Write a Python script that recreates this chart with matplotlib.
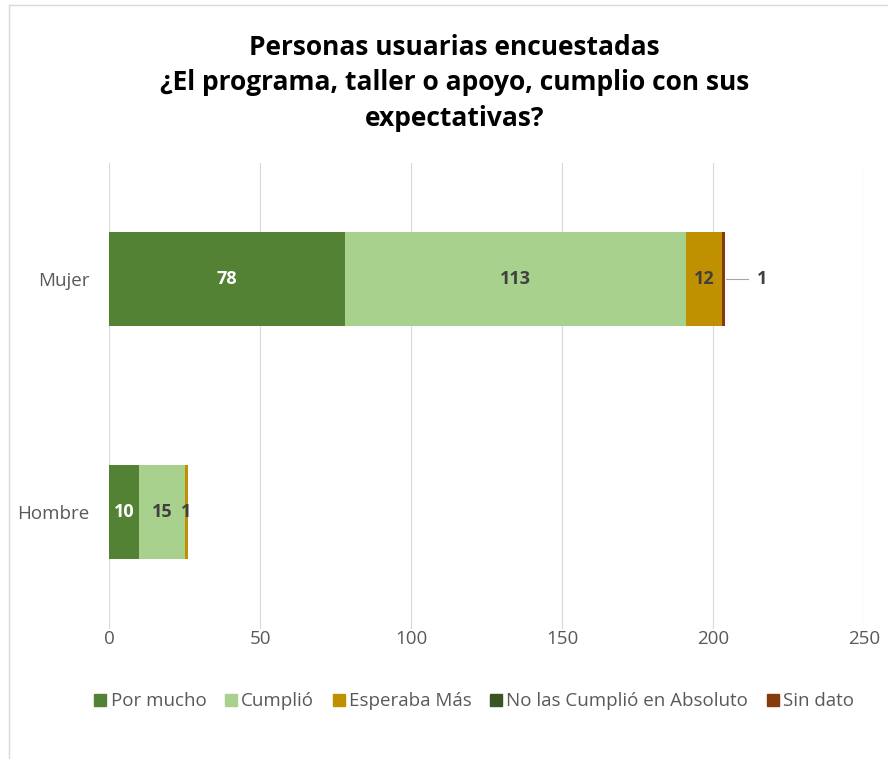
import numpy as np
import matplotlib.pyplot as plt
from matplotlib.lines import Line2D

# data
categories = ['Hombre', 'Mujer']
series_names = ['Por mucho', 'Cumplió', 'Esperaba Más', 'No las Cumplió en Absoluto', 'Sin dato']
por_mucho = [10, 78]
cumplio = [15, 113]
esperaba_mas = [1, 12]
no_cumplio = [0, 0]
sin_dato = [0, 1]
xticks = [0, 50, 100, 150, 200, 250]

colors = ['#548235', '#A9D18E', '#BF9000', '#375623', '#843C0C']
label_colors = ['white', '#404040', '#404040', 'white', '#404040']

fig = plt.figure(figsize=(8.88, 7.59), dpi=100)
ax = fig.add_axes([109 / 888, 1 - 628.5 / 759, (864 - 109) / 888, (628.5 - 162.5) / 759])

y = np.arange(len(categories))
left = np.zeros(len(categories))
values = [por_mucho, cumplio, esperaba_mas, no_cumplio, sin_dato]
for i, vals in enumerate(values):
    vals = np.array(vals, dtype=float)
    ax.barh(y, vals, left=left, height=0.4, color=colors[i], label=series_names[i])
    for j, v in enumerate(vals):
        if v <= 0:
            continue
        if series_names[i] == 'Sin dato':
            # label placed outside with a leader line
            xe = left[j] + v
            ax.plot([xe + 0.3, xe + 7.5], [y[j], y[j]], color='#A6A6A6', lw=0.8)
            ax.text(xe + 10.5, y[j], '{:g}'.format(v), ha='left', va='center',
                    fontsize=13, fontweight='bold', color='#404040', family='Open Sans')
        else:
            ax.text(left[j] + v / 2, y[j], '{:g}'.format(v), ha='center', va='center',
                    fontsize=13, fontweight='bold', color=label_colors[i], family='Open Sans')
    left += vals

ax.set_xlim(0, 250)
ax.set_ylim(-0.5, 1.5)
ax.set_xticks(xticks)
ax.set_yticks(y)
ax.set_yticklabels(categories)
ax.grid(axis='x', color='#D9D9D9', lw=0.8)
ax.set_axisbelow(True)
for s in ax.spines.values():
    s.set_visible(False)
ax.tick_params(length=0, labelsize=13.5, colors='#595959')
ax.tick_params(axis='x', pad=1)
ax.tick_params(axis='y', pad=14)
for lab in ax.get_xticklabels() + ax.get_yticklabels():
    lab.set_family('Open Sans')

fig.text(0.512, 0.891, 'Personas usuarias encuestadas\n¿El programa, taller o apoyo, cumplio con sus\nexpectativas?',
         ha='center', va='center', fontsize=19, fontweight='bold', color='black',
         family='Open Sans', linespacing=1.4)

handles = [Line2D([], [], marker='s', ls='', color=c, markersize=9) for c in colors]
fig.legend(handles, series_names, loc='center', bbox_to_anchor=(0.532, 0.076), ncol=5,
           frameon=False, handletextpad=0.05, columnspacing=0.8, handlelength=1.0,
           prop={'family': 'Open Sans', 'size': 13.5}, labelcolor='#595959')

# chart border (top and left edges visible)
fig.add_artist(Line2D([9 / 888, 1], [1 - 5 / 759, 1 - 5 / 759], color='#D9D9D9', lw=1))
fig.add_artist(Line2D([9 / 888, 9 / 888], [0, 1 - 5 / 759], color='#D9D9D9', lw=1))

fig.savefig('out.png', dpi=100)
